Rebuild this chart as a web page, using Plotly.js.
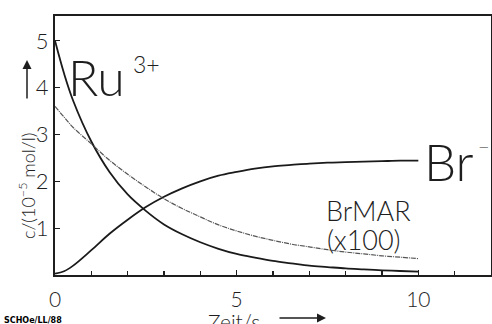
<!DOCTYPE html>
<html>
<head>
<meta charset="utf-8">
<script src="https://cdn.plot.ly/plotly-3.0.1.min.js"></script>
<style>html,body{margin:0;padding:0;background:#fff;}</style>
</head>
<body>
<div id="chart" style="width:492px;height:324px;"></div>
<script>
// ---- data ----
const time   = [0, 0.25, 0.5, 1, 1.5, 2, 2.5, 3, 3.5, 4, 4.5, 5, 5.5, 6, 6.5, 7, 7.5, 8, 8.5, 9, 9.5, 10];
const ru3    = [5.0, 4.3, 3.72, 2.85, 2.2, 1.72, 1.37, 1.08, 0.87, 0.7, 0.56, 0.45, 0.37, 0.3, 0.25, 0.2, 0.17, 0.14, 0.12, 0.1, 0.085, 0.07];
const brIon  = [0.03, 0.08, 0.2, 0.53, 0.88, 1.18, 1.45, 1.67, 1.85, 2.0, 2.12, 2.2, 2.27, 2.32, 2.35, 2.38, 2.4, 2.41, 2.42, 2.43, 2.44, 2.44];
const brmar  = [3.6, 3.37, 3.15, 2.8, 2.45, 2.15, 1.88, 1.63, 1.42, 1.24, 1.07, 0.94, 0.83, 0.74, 0.66, 0.6, 0.54, 0.49, 0.45, 0.41, 0.38, 0.35];
const xTicks = [0, 5, 10];
const xMinor = [1, 2, 3, 4, 6, 7, 8, 9, 11];
const yTicks = [1, 2, 3, 4, 5];

const FONT = "Lato, DejaVu Sans, sans-serif";
const WT = 300;
const INK = "#1e1e1e";

// pixel -> paper helpers for label placement
const L = 55, R = 1, T = 16, B = 49, W = 492, H = 324;
const XR = [0, 12], YR = [0, 5.53];
const pw = W - L - R, ph = H - T - B;
const pxP = p => (p - L) / pw;
const pyP = p => (H - B - p) / ph;

const traces = [
  {x: time, y: ru3, mode: 'lines', line: {color: '#1a1a1a', width: 1.8, shape: 'spline'}},
  {x: time, y: brIon, mode: 'lines', line: {color: '#1a1a1a', width: 1.8, shape: 'spline'}},
  {x: time, y: brmar, mode: 'lines', line: {color: '#555', width: 1.2, shape: 'spline', dash: '5px,1px,1px,1px'}}
];

function txt(text, px, py, size, extra) {
  return Object.assign({text: text, x: pxP(px), y: pyP(py), xref: 'paper', yref: 'paper',
    xanchor: 'left', yanchor: 'middle', showarrow: false, borderpad: 0,
    font: {family: FONT, size: size, color: INK, weight: WT}}, extra || {});
}

const annotations = [
  txt('Ru', 67, 77, 50),
  txt('3+', 132, 64, 23),
  txt('Br', 423, 161, 51),
  txt('\u2212', 491, 146, 20, {xanchor: 'right'}),
  txt('BrMAR', 325, 210, 27),
  txt('(x100)', 326, 239, 27),
  txt('c/(10<sup>\u22125</sup> mol/l)', 27, 186, 18, {xanchor: 'center', textangle: -90}),
  txt('Zeit/s', 234, 321, 21, {xanchor: 'center'}),
  txt('SCHOe/LL/88', 3, 320, 8, {font: {family: 'DejaVu Sans', size: 8, color: '#000', weight: 'bold'}}),
  {x: pxP(27), y: pyP(60), xref: 'paper', yref: 'paper', text: '', showarrow: true,
   axref: 'pixel', ayref: 'pixel', ax: 0, ay: 40, arrowhead: 2, arrowsize: 1.2, arrowwidth: 1.5, arrowcolor: INK, standoff: 0},
  {x: pxP(326), y: pyP(318), xref: 'paper', yref: 'paper', text: '', showarrow: true,
   axref: 'pixel', ayref: 'pixel', ax: -48, ay: 0, arrowhead: 2, arrowsize: 1.2, arrowwidth: 1.5, arrowcolor: INK, standoff: 0}
];

const layout = {
  width: W, height: H,
  margin: {l: L, r: R, t: T, b: B},
  paper_bgcolor: '#fff', plot_bgcolor: '#fff',
  showlegend: false,
  xaxis: {
    range: XR, tickvals: xTicks, ticktext: xTicks.map(String),
    ticks: 'inside', ticklen: 5, tickwidth: 1.2, tickcolor: INK,
    minor: {tickvals: xMinor, ticks: 'inside', ticklen: 4, tickwidth: 1.2, tickcolor: INK},
    showline: true, mirror: true, linewidth: 2, linecolor: INK,
    showgrid: false, zeroline: false,
    tickfont: {family: FONT, size: 21, color: INK, weight: WT}, ticklabelstandoff: 5
  },
  yaxis: {
    range: YR, tickvals: yTicks, ticktext: yTicks.map(String),
    ticks: 'inside', ticklen: 5, tickwidth: 1.2, tickcolor: INK,
    showline: true, mirror: true, linewidth: 2, linecolor: INK,
    showgrid: false, zeroline: false,
    tickfont: {family: FONT, size: 22, color: INK, weight: WT}
  },
  annotations: annotations
};

Plotly.newPlot('chart', traces, layout, {staticPlot: true, displayModeBar: false});
</script>
</body>
</html>
